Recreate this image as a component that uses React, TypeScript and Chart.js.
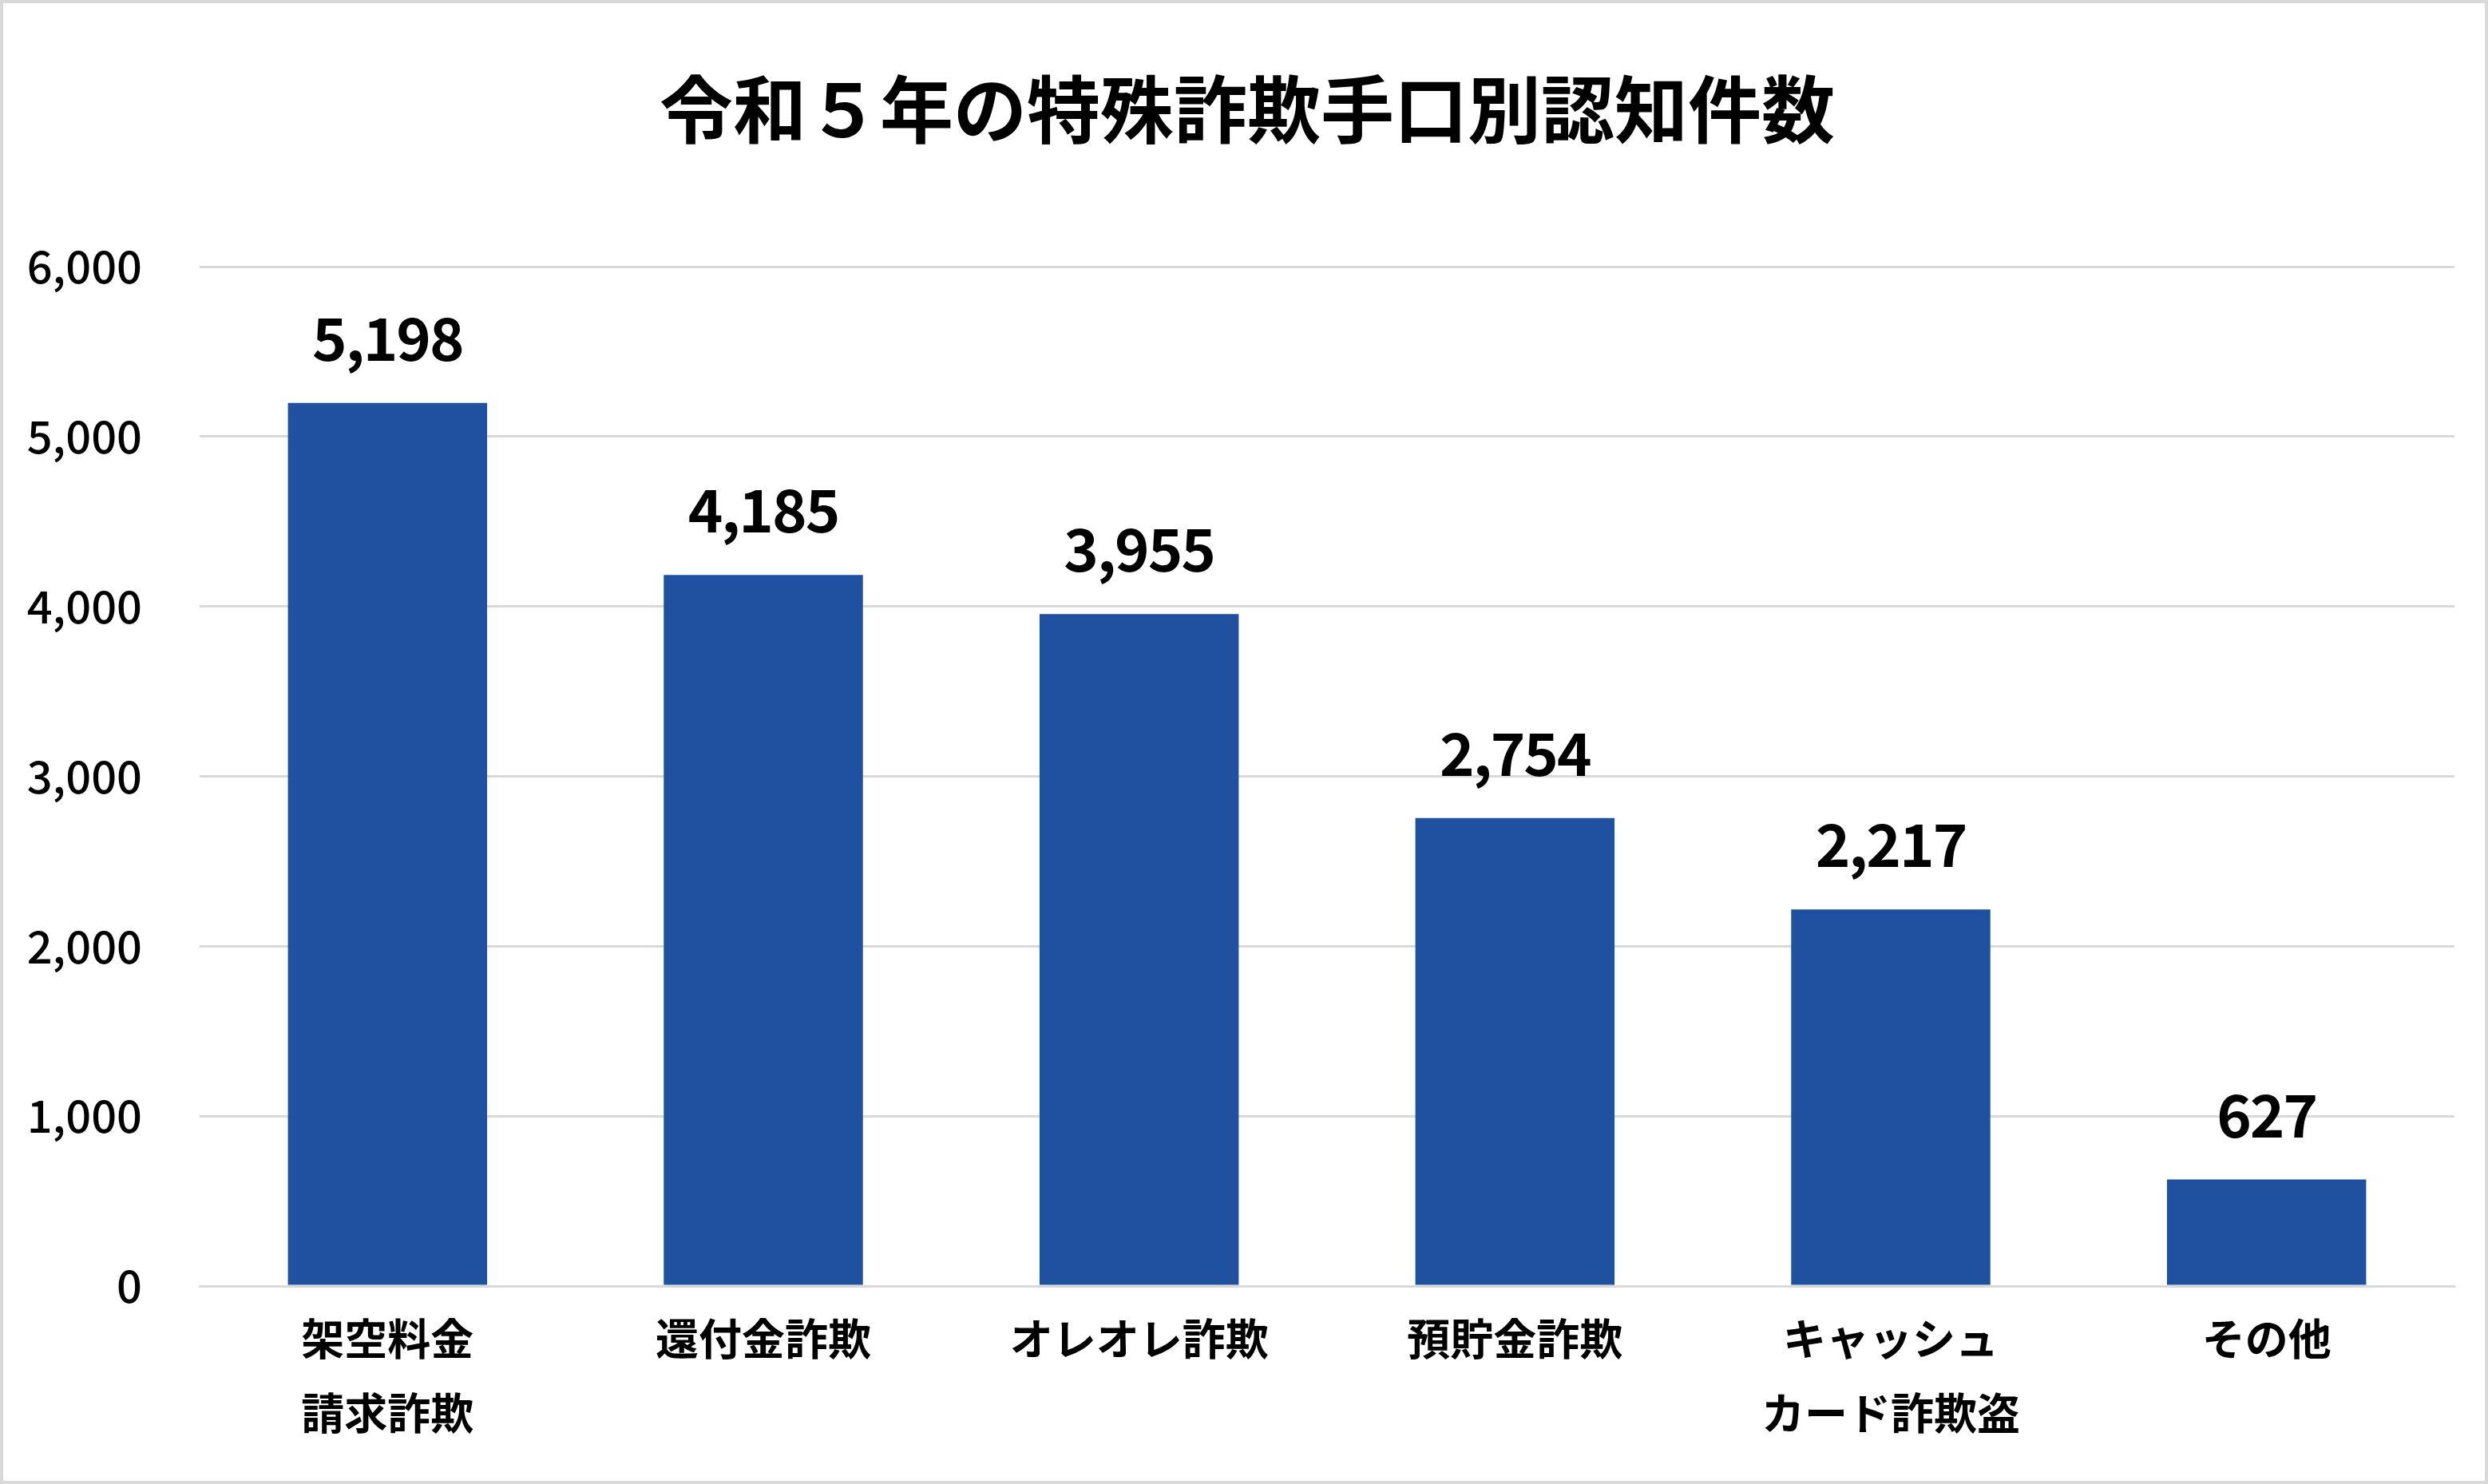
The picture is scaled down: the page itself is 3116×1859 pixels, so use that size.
import React, { useEffect, useRef } from "react";
import { Chart, registerables } from "chart.js";

Chart.register(...registerables);

const titleText = "令和５年の特殊詐欺手口別認知件数";
const categories: string[][] = [
  ["架空料金", "請求詐欺"],
  ["還付金詐欺"],
  ["オレオレ詐欺"],
  ["預貯金詐欺"],
  ["キャッシュ", "カード詐欺盗"],
  ["その他"],
];
const counts: number[] = [5198, 4185, 3955, 2754, 2217, 627];
const yMin = 0;
const yMax = 6000;
const yStep = 1000;

const FONT = "'Noto Sans CJK JP', 'Noto Sans', sans-serif";
const BAR_COLOR = "#2050a0";
const GRID_COLOR = "#d9d9d9";

const W = 3116;
const H = 1859;

const bgBorder = {
  id: "bgBorder",
  beforeDraw(chart: any) {
    const { ctx } = chart;
    ctx.save();
    ctx.fillStyle = "#ffffff";
    ctx.fillRect(0, 0, chart.width, chart.height);
    ctx.restore();
  },
  afterDraw(chart: any) {
    const { ctx } = chart;
    ctx.save();
    ctx.strokeStyle = GRID_COLOR;
    ctx.lineWidth = 4;
    ctx.strokeRect(2, 2, chart.width - 4, chart.height - 4);
    ctx.restore();
  },
};

const chartTitle = {
  id: "chartTitle",
  afterDraw(chart: any) {
    const { ctx } = chart;
    ctx.save();
    ctx.font = `bold 92px ${FONT}`;
    ctx.fillStyle = "#000000";
    ctx.textAlign = "center";
    ctx.textBaseline = "middle";
    ctx.fillText(titleText, chart.width / 2 + 4, 137);
    ctx.restore();
  },
};

const valueLabels = {
  id: "valueLabels",
  afterDatasetsDraw(chart: any) {
    const { ctx } = chart;
    const meta = chart.getDatasetMeta(0);
    const data = chart.data.datasets[0].data as number[];
    ctx.save();
    ctx.font = `bold 74px ${FONT}`;
    try { (ctx as any).letterSpacing = "-2px"; } catch (e) {}
    ctx.fillStyle = "#000000";
    ctx.textAlign = "center";
    ctx.textBaseline = "alphabetic";
    meta.data.forEach((bar: any, i: number) => {
      ctx.fillText(data[i].toLocaleString("en-US"), bar.x, bar.y - 53);
    });
    ctx.restore();
  },
};

export default function App() {
  const canvasRef = useRef<HTMLCanvasElement | null>(null);

  useEffect(() => {
    document.body.style.margin = "0";
    const canvas = canvasRef.current;
    if (!canvas) return;
    const chart = new Chart(canvas, {
      type: "bar",
      data: {
        labels: categories,
        datasets: [
          {
            data: counts,
            backgroundColor: BAR_COLOR,
            borderWidth: 0,
            barPercentage: 0.53,
            categoryPercentage: 1,
          },
        ],
      },
      options: {
        responsive: false,
        animation: false,
        devicePixelRatio: 1,
        layout: { padding: { left: 0, right: 42, top: 334, bottom: 0 } },
        plugins: {
          legend: { display: false },
          tooltip: { enabled: false },
          title: { display: false },
        },
        scales: {
          x: {
            grid: { display: false, drawTicks: false },
            border: { display: true, color: GRID_COLOR, width: 3 },
            ticks: {
              color: "#000000",
              font: { family: FONT, size: 54, weight: "bold", lineHeight: 1.72 },
              padding: 20,
              maxRotation: 0,
              autoSkip: false,
            },
            afterFit(scale: any) {
              scale.height = 248;
            },
          },
          y: {
            min: yMin,
            max: yMax,
            grid: { color: GRID_COLOR, lineWidth: 3, drawTicks: false },
            border: { display: false },
            ticks: {
              stepSize: yStep,
              color: "#000000",
              font: { family: FONT, size: 56, weight: 500 },
              padding: 72,
              callback: (v: any) => Number(v).toLocaleString("en-US"),
            },
            afterFit(scale: any) {
              scale.width = 250;
            },
          },
        },
      },
      plugins: [bgBorder, valueLabels, chartTitle],
    });
    return () => chart.destroy();
  }, []);

  return (
    <div style={{ width: W, height: H, position: "relative" }}>
      <canvas ref={canvasRef} width={W} height={H} style={{ width: W, height: H, display: "block" }} />
    </div>
  );
}
